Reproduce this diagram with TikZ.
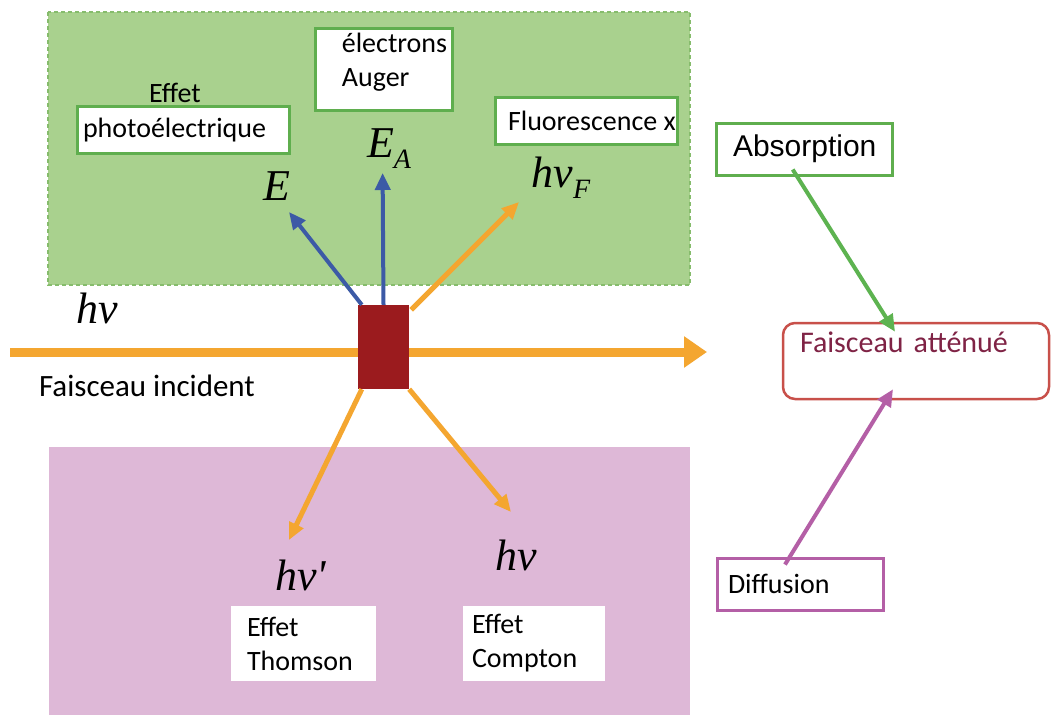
\documentclass[tikz,border=0pt]{standalone}
\usepackage{fontspec}
\setmainfont{Carlito}
\newfontfamily\absfont{Liberation Sans}
\newfontfamily\serifit{Liberation Serif}
\usetikzlibrary{arrows.meta, positioning}
\definecolor{zonegreen}{HTML}{A9D18E}
\definecolor{zonegreenline}{HTML}{86BC6C}
\definecolor{zonepink}{HTML}{DEB8D7}
\definecolor{boxgreen}{HTML}{5FAE4E}
\definecolor{arrowblue}{HTML}{3C5AA6}
\definecolor{arroworange}{HTML}{F4A630}
\definecolor{arrowgreen}{HTML}{5DB350}
\definecolor{boxpurple}{HTML}{B45FA6}
\definecolor{targetred}{HTML}{9B1B1E}
\definecolor{attline}{HTML}{C8504A}
\definecolor{atttext}{HTML}{7F2345}
\newcommand{\msub}[1]{\raisebox{-11pt}{\fontsize{28}{28}\selectfont #1}}

\begin{document}
\begin{tikzpicture}[
    x=1pt, y=-1pt,
    every node/.style={font=\fontsize{28}{34}\selectfont},
    greenbox/.style={draw=boxgreen, line width=3pt, fill=white, inner sep=4pt},
    purplebox/.style={draw=boxpurple, line width=3pt, fill=white, inner sep=4pt},
    whitebox/.style={fill=white, inner ysep=4pt},
    attbox/.style={draw=attline, line width=2.5pt, rounded corners=12pt, fill=white, text=atttext},
    mathlbl/.style={font=\fontsize{44}{44}\selectfont\serifit\itshape, inner sep=0pt, anchor=base},
    blueray/.style={-{Triangle[length=17pt, width=15pt]}, draw=arrowblue, line width=4pt},
    orangeray/.style={-{Triangle[length=17pt, width=15pt]}, draw=arroworange, line width=5pt},
    beam/.style={-{Triangle[length=23pt, width=30pt]}, draw=arroworange, line width=9pt},
    linkgreen/.style={-{Triangle[length=17pt, width=15pt]}, draw=arrowgreen, line width=4pt},
    linkpurple/.style={-{Triangle[length=17pt, width=15pt]}, draw=boxpurple, line width=4pt}
]
    \useasboundingbox (0,0) rectangle (1051,717);
    \fill[white] (0,0) rectangle (1051,717);

    % zones
    \draw[fill=zonegreen, draw=zonegreenline, line width=1.5pt, dash pattern=on 4pt off 3pt] (48,12) rectangle (690,285);
    \fill[zonepink] (49,447) rectangle (690,715);

    % incident beam and target
    \coordinate (beamstart) at (10,352);
    \coordinate (beamend) at (707,352);
    \draw[beam] (beamstart) -- (beamend);
    \node[fill=targetred, minimum width=51pt, minimum height=84pt, inner sep=0pt] (sq) at (383.5,347) {};
    \node[mathlbl] (hvin) at (97.5,323) {hν};
    \node[anchor=base, font=\fontsize{31}{34}\selectfont] (incident) at (147,396) {Faisceau incident};

    % absorption side
    \node[greenbox, text width=200pt, inner xsep=6pt, minimum height=47pt] (photo) at (183,130) {photoélectrique};
    \node[above=-1pt of photo, xshift=-8pt, inner sep=3pt] (photoeffet) {Effet};
    \node[greenbox, minimum width=136pt, minimum height=77pt, inner xsep=5pt, align=left] (auger) at (384,69.5)
        {\hspace*{21pt}électrons\\\hspace*{21pt}Auger\\[-14pt]\mbox{}};
    \node[greenbox, inner xsep=13pt, minimum height=47pt] (fluo) at (586,120.5) {\makebox[156pt][l]{Fluorescence x}};

    \coordinate (tipE) at (289,212);
    \coordinate (tipEA) at (382.6,173);
    \coordinate (tipF) at (519,202);
    \node[mathlbl] (lblE) at (277,200) {E};
    \node[mathlbl] (lblEA) at (389,157) {E\msub{A}};
    \node[mathlbl] (lblF) at (561,187) {hν\msub{F}};

    \draw[blueray] ([xshift=4pt]sq.north west) -- (tipE);
    \draw[blueray] (sq.north) -- (tipEA);
    \draw[orangeray] ([shift={(2pt,-5pt)}]sq.north east) -- (tipF);

    % diffusion side
    \coordinate (tipThom) at (289,540);
    \coordinate (tipComp) at (511,512);
    \node[mathlbl] (lblThom) at (300.5,590) {hν\textquotesingle};
    \node[mathlbl] (lblComp) at (516,570) {hν};
    \node[whitebox, text width=113pt, inner xsep=16pt, minimum height=75pt, align=left] (thomson) at (303.5,643.5) {Effet\\Thomson};
    \node[whitebox, text width=124pt, inner xsep=9pt, minimum height=75pt, align=left] (compton) at (534,643.5) {Effet\\Compton};

    \draw[orangeray] ([xshift=4pt]sq.south west) -- (tipThom);
    \draw[orangeray] (sq.south east) -- (tipComp);

    % right column
    \node[greenbox, font=\fontsize{30}{34}\selectfont\absfont, minimum width=176pt, minimum height=52pt] (absorb) at (804.7,149) {Absorption};
    \node[attbox, text width=232pt, inner xsep=17pt, minimum height=76pt, align=left,
          font=\fontsize{30}{34}\selectfont, text height=22pt, text depth=40pt] (att) at (916,361) {Faisceau atténué};
    \node[purplebox, text width=144pt, inner xsep=11pt, minimum height=52pt, align=left] (diff) at (800,584) {Diffusion};

    \draw[linkgreen] ([shift={(-12pt,7pt)}]absorb.south) -- ([shift={(-21pt,-10pt)}]att.north);
    \draw[linkpurple] ([shift={(-15pt,-8pt)}]diff.north) -- ([shift={(-23pt,11pt)}]att.south);
\end{tikzpicture}
\end{document}
